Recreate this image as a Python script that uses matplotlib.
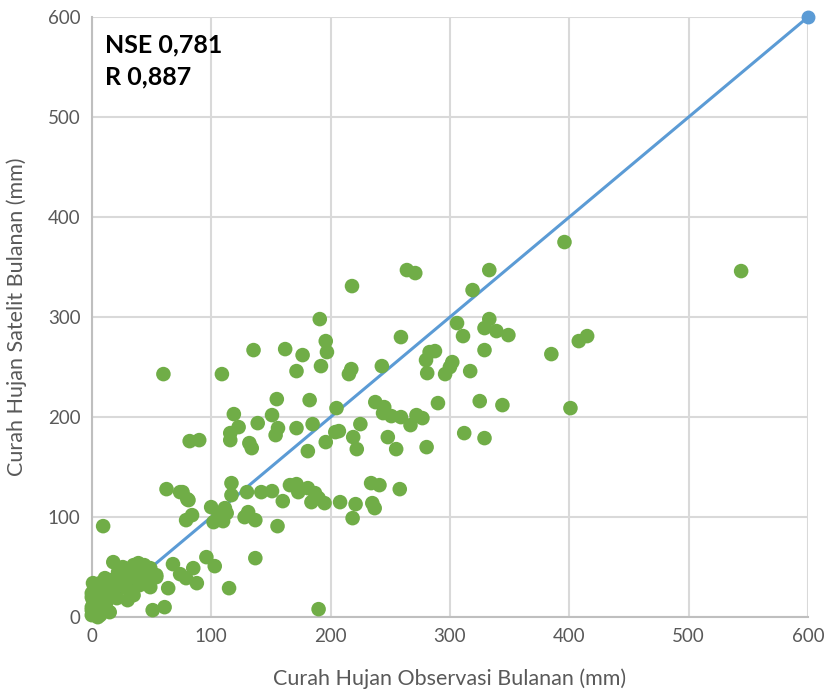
import matplotlib.pyplot as plt

# observed (x) vs satellite (y) monthly rainfall, mm
obs = [544, 396, 415, 408, 385, 401,
       264, 271, 218, 333, 319,
       191, 259, 196, 197, 135.5, 162, 176.6, 109, 60,
       171.5, 192, 217.4, 215.4, 243,
       306, 311, 333, 329, 339, 349, 329,
       280, 283, 287.5, 281, 302, 300, 296, 317,
       155, 182.5, 119, 123, 116, 116, 139, 151, 156, 154, 171.5, 185, 205, 204, 207, 196, 219,
       237.5, 245, 244, 251, 259, 272, 277, 267, 248,
       82, 90, 132, 134, 225,
       290, 325, 344, 312, 329,
       280.5, 255, 222, 181,
       117, 117, 130, 142, 151, 160, 166, 171.5, 173,
       181, 187, 184, 190, 195, 208, 221, 234, 241, 258, 235, 237, 218.5,
       100, 111.5, 113, 106, 102, 110, 128, 131, 137, 155.6,
       76, 81, 79, 84, 62.6, 74, 80,
       137, 96, 103, 85, 79, 88, 115, 190, 9.5,
       68, 74, 64, 61, 51, 49, 54, 35, 18,
       26, 35, 39, 44, 49, 54, 29, 22, 16.5, 11, 7, 1, 4, 9.5, 18, 29, 23.5, 14, 1, 0,
       9.5, 7, 0, 0, 5, 33, 30, 0, 2.5, 12, 21, 40, 47, 36, 43, 23.5, 4, 0, 10, 2, 5, 15, 3]
sat = [346, 375, 281, 276, 263, 209,
       347, 344, 331, 347, 327,
       298, 280, 276, 265, 267, 268, 262, 243, 243,
       246, 251, 248, 243, 251,
       294, 281, 298, 289, 286, 282, 267,
       257, 265, 266, 244, 255, 250, 243, 246,
       218, 217, 203, 190, 184, 177, 194, 202, 189, 182, 189, 193, 209, 185, 186, 175, 180,
       215, 210, 204, 201, 200, 202, 199, 192, 180,
       176, 177, 174, 169, 193,
       214, 216, 212, 184, 179,
       170, 168, 168, 166,
       134, 122, 125, 125, 126, 116, 132, 133, 125,
       129, 124, 115, 119, 114, 115, 113, 134, 132, 128, 114, 109, 99,
       110, 109, 104, 104, 95, 96, 100, 105, 97, 91,
       125, 117, 97, 102, 128, 125, 118,
       59, 60, 51, 49, 39, 34, 29, 8, 91,
       53, 43, 29, 10, 7, 30, 40, 22, 55,
       50, 52, 54, 52, 49, 42, 42, 45, 37, 39, 34, 34, 25, 27, 27, 29, 34, 20, 17, 10,
       7, 2, 2, 20, 15, 24, 17, 24, 10, 14, 19, 32, 39, 39, 45, 40, 7, 7, 36, 30, 0, 5, 4]

ref_line = [0, 600]
ticks = [0, 100, 200, 300, 400, 500, 600]
nse_text = "NSE 0,781\nR 0,887"

plt.rcParams['font.family'] = ['Lato', 'DejaVu Sans']

fig = plt.figure(figsize=(8.27, 6.95), dpi=100)
ax = fig.add_axes([0.111, 0.112, 0.866, 0.8635])

ax.plot(ref_line, ref_line, color='#5B9BD5', lw=2.2, marker='o', markersize=9,
        markevery=[1], zorder=2, clip_on=False)
ax.scatter(obs, sat, s=110, color='#70AD47', edgecolors='none', zorder=3, clip_on=False)

ax.set_xlim(0, 600)
ax.set_ylim(0, 600)
ax.set_xticks(ticks)
ax.set_yticks(ticks)
ax.grid(True, color='#D9D9D9', lw=1.5, zorder=0)
ax.set_axisbelow(True)
for s in ['top', 'right']:
    ax.spines[s].set_visible(False)
for s in ['left', 'bottom']:
    ax.spines[s].set_color('#BFBFBF')
    ax.spines[s].set_linewidth(1.5)
ax.tick_params(length=0, labelsize=13.5, colors='#595959', pad=8)

ax.set_xlabel('Curah Hujan Observasi Bulanan (mm)', fontsize=15.5, color='#595959', labelpad=17)
ax.set_ylabel('Curah Hujan Satelit Bulanan (mm)', fontsize=15.5, color='#595959', labelpad=15)

ax.text(0.019, 0.972, nse_text, transform=ax.transAxes, fontsize=18, fontweight='bold',
        va='top', ha='left', linespacing=1.45)

fig.savefig('out.png', dpi=100)
